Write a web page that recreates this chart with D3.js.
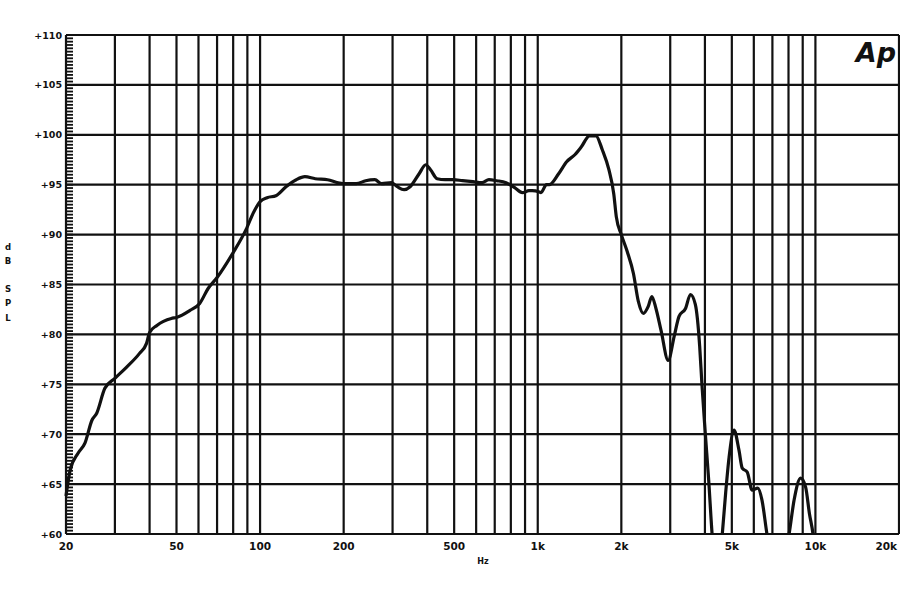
<!DOCTYPE html>
<html>
<head>
<meta charset="utf-8">
<script src="https://cdn.jsdelivr.net/npm/d3@7"></script>
<style>
  body { margin: 0; background: #fff; }
  svg { display: block; }
  text { font-family: "DejaVu Sans", sans-serif; font-weight: bold; fill: #111; }
</style>
</head>
<body>
<svg id="chart" width="900" height="600"></svg>
<script>
// ===== Frequency response (dB SPL vs Hz) =====

// response curve
const freqs = [20, 20.7, 22.1, 23.4, 24.8, 25.8, 27.6, 30, 33, 36.8, 39, 40, 42.5, 47.9, 50, 55.9, 60.6, 65, 70,
  80, 89, 95, 100, 106, 114, 124, 135, 145, 158, 175, 191, 204, 222, 240, 259, 274, 297, 312, 330, 347,
  374, 395, 411, 434, 464, 496, 536, 584, 630, 667, 712, 769, 826, 880, 930, 955, 1008, 1027, 1075, 1099, 1189,
  1271, 1360, 1436, 1536, 1620, 1708, 1804, 1878, 1918, 2000, 2100, 2211, 2303, 2400, 2500, 2575, 2665,
  2780, 2950, 3100, 3227, 3405, 3548, 3694, 3830, 3900, 4012, 4127, 4245, 4430, 4620, 4750, 4888, 5092,
  5305, 5450, 5680, 5918, 6200, 6420, 6690, 7300, 8040, 8380, 8850, 9220, 9520, 9800, 10100];
const spl = [63.8, 66.4, 68.1, 69.1, 71.4, 72.1, 74.6, 75.6, 76.7, 78.1, 79.1, 80.2, 80.9, 81.6, 81.7, 82.4, 83.1, 84.6, 85.7,
  88.2, 90.5, 92.3, 93.3, 93.7, 93.9, 94.8, 95.5, 95.8, 95.6, 95.5, 95.2, 95.1, 95.1, 95.4, 95.5, 95.1, 95.2, 94.8, 94.5, 94.8,
  96.1, 97.0, 96.5, 95.6, 95.5, 95.5, 95.4, 95.3, 95.2, 95.5, 95.4, 95.2, 94.7, 94.2, 94.4, 94.4, 94.3, 94.2, 95.0, 95.0, 96.1,
  97.3, 98.0, 98.8, 99.9, 99.9, 98.5, 96.5, 94.1, 91.8, 90.0, 88.3, 86.1, 83.3, 82.1, 82.8, 83.8, 82.6,
  80.4, 77.4, 79.8, 81.8, 82.6, 84.0, 83.0, 78.8, 75.1, 70.1, 65.4, 60.0, 55.0, 60.0, 64.1, 67.7, 70.4,
  68.4, 66.6, 66.2, 64.4, 64.6, 63.4, 60.0, 55.0, 60.0, 63.4, 65.6, 64.7, 62.0, 60.0, 56.0];

// grid and labels
const gridFreqs = [20, 30, 40, 50, 60, 70, 80, 90, 100, 200, 300, 400, 500, 600, 700, 800, 900,
  1000, 2000, 3000, 4000, 5000, 6000, 7000, 8000, 9000, 10000, 20000];
const xLabelFreqs = [20, 50, 100, 200, 500, 1000, 2000, 5000, 10000, 20000];
const xLabels = ['20', '50', '100', '200', '500', '1k', '2k', '5k', '10k', '20k'];
const yTicks = [60, 65, 70, 75, 80, 85, 90, 95, 100, 105, 110];
const yLabels = ['+60', '+65', '+70', '+75', '+80', '+85', '+90', '+95', '+100', '+105', '+110'];
const yLetters = ['d', 'B', 'S', 'P', 'L'];

const svg = d3.select('#chart');
const x = d3.scaleLog().domain([20, 20000]).range([66, 899]);
const y = d3.scaleLinear().domain([60, 110]).range([534, 35]);

// minor ticks on the left edge, every 1/3 dB
const minor = d3.range(0, 151).map(i => 60 + i / 3);
svg.append('g').selectAll('line').data(minor).join('line')
  .attr('x1', x(20)).attr('x2', x(20) + 7)
  .attr('y1', d => y(d)).attr('y2', d => y(d))
  .attr('stroke', '#111').attr('stroke-width', 1.8);

// grid
svg.append('g').selectAll('line').data(gridFreqs).join('line')
  .attr('x1', d => x(d)).attr('x2', d => x(d))
  .attr('y1', y(110)).attr('y2', y(60))
  .attr('stroke', '#111').attr('stroke-width', 2.2);
svg.append('g').selectAll('line').data(yTicks).join('line')
  .attr('x1', x(20)).attr('x2', x(20000))
  .attr('y1', d => y(d)).attr('y2', d => y(d))
  .attr('stroke', '#111').attr('stroke-width', 2.2);

// y labels
svg.append('g').selectAll('text').data(yTicks).join('text')
  .attr('x', 62).attr('y', d => y(d) + 3.5)
  .attr('text-anchor', 'end').attr('font-size', 9.5)
  .text((d, i) => yLabels[i]);

// x labels (the last one sits left of the right border)
svg.append('g').selectAll('text').data(xLabelFreqs).join('text')
  .attr('x', (d, i) => i === xLabelFreqs.length - 1 ? x(d) - 2 : x(d))
  .attr('y', 550)
  .attr('text-anchor', (d, i) => i === xLabelFreqs.length - 1 ? 'end' : 'middle')
  .attr('font-size', 10.5)
  .text((d, i) => xLabels[i]);

svg.append('text').attr('x', 483).attr('y', 564)
  .attr('text-anchor', 'middle').attr('font-size', 8).text('Hz');

// vertical "dB SPL"
const letterY = [250, 264, 292, 306, 321];
svg.append('g').selectAll('text').data(yLetters).join('text')
  .attr('x', 8).attr('y', (d, i) => letterY[i])
  .attr('text-anchor', 'middle').attr('font-size', 8.5)
  .text(d => d);

// logo
svg.append('text').attr('x', 896).attr('y', 62)
  .attr('text-anchor', 'end').attr('font-size', 27)
  .attr('font-style', 'italic').attr('font-weight', 'bold')
  .text('Ap');

// curve, clipped to the plot box
svg.append('clipPath').attr('id', 'plot-clip')
  .append('rect').attr('x', x(20) - 3).attr('y', y(110))
  .attr('width', x(20000) - x(20) + 3).attr('height', y(60) - y(110) + 1);

const line = d3.line()
  .x((d, i) => x(freqs[i]))
  .y(d => y(d))
  .curve(d3.curveMonotoneX);

svg.append('path')
  .datum(spl)
  .attr('clip-path', 'url(#plot-clip)')
  .attr('d', line)
  .attr('fill', 'none')
  .attr('stroke', '#111')
  .attr('stroke-width', 3.2)
  .attr('stroke-linejoin', 'round');
</script>
</body>
</html>
